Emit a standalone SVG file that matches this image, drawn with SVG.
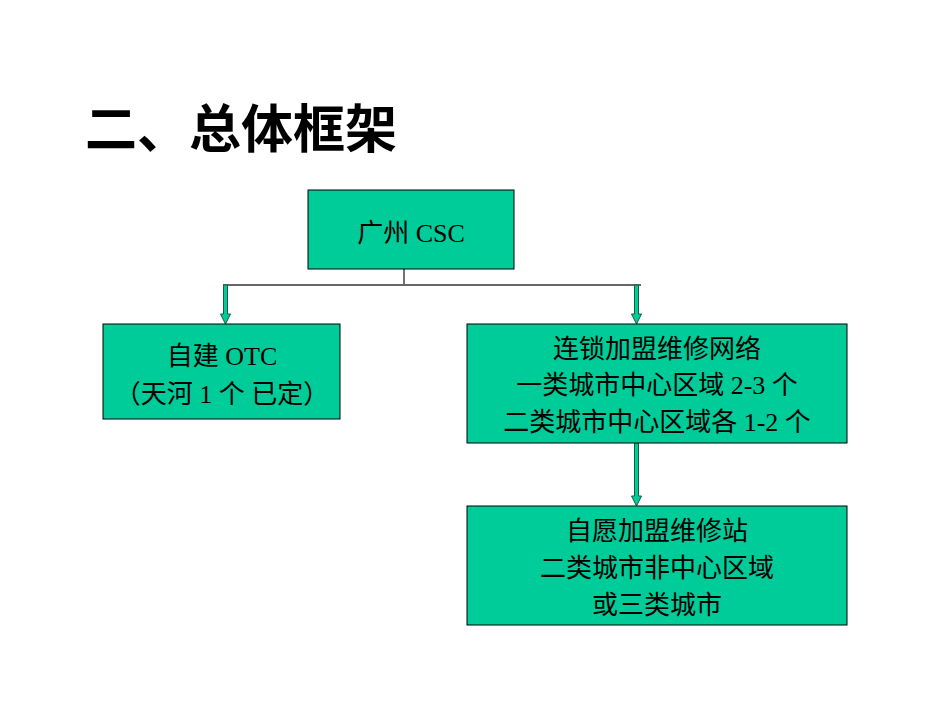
<svg xmlns="http://www.w3.org/2000/svg" width="950" height="713" viewBox="0 0 950 713">
<style>
.box{fill:#00CC99;stroke:#000;stroke-width:1}
.t{font-family:"Liberation Serif","Noto Sans CJK SC",serif;font-size:26px;text-anchor:middle;fill:#000}
.arr{fill:#00CC99;stroke:#1a5a40;stroke-width:1}
</style>
<rect width="950" height="713" fill="#fff"/>
<text x="85" y="148" style="font-family:'Liberation Sans','Noto Sans CJK SC',sans-serif;font-size:52px;font-weight:bold">二、总体框架</text>
<g id="connectors">
<line x1="404" y1="269" x2="404" y2="285" stroke="#444" stroke-width="1.5"/>
<line x1="223" y1="285" x2="641" y2="285" stroke="#666" stroke-width="2"/>
<path class="arr" d="M223.5,285 h4 v29 h3 l-5,10 l-5,-10 h3 z"/>
<path class="arr" d="M634.5,285 h4 v29 h3 l-5,10 l-5,-10 h3 z"/>
<path class="arr" d="M634.5,443 h4 v53 h3 l-5,10 l-5,-10 h3 z"/>
</g>
<g id="n1"><rect class="box" x="308" y="190" width="206" height="79"/><text class="t" x="411" y="242">广州 CSC</text></g>
<g id="n2"><rect class="box" x="103" y="324" width="237" height="95"/><text class="t" x="222" y="365">自建 OTC</text><text class="t" x="222" y="403">（天河 1 个  已定）</text></g>
<g id="n3"><rect class="box" x="467" y="324" width="380" height="119"/><text class="t" x="657" y="358">连锁加盟维修网络</text><text class="t" x="657" y="394">一类城市中心区域 2-3 个</text><text class="t" x="657" y="431">二类城市中心区域各 1-2 个</text></g>
<g id="n4"><rect class="box" x="467" y="506" width="380" height="119"/><text class="t" x="657" y="540">自愿加盟维修站</text><text class="t" x="657" y="577">二类城市非中心区域</text><text class="t" x="657" y="614">或三类城市</text></g>
</svg>
